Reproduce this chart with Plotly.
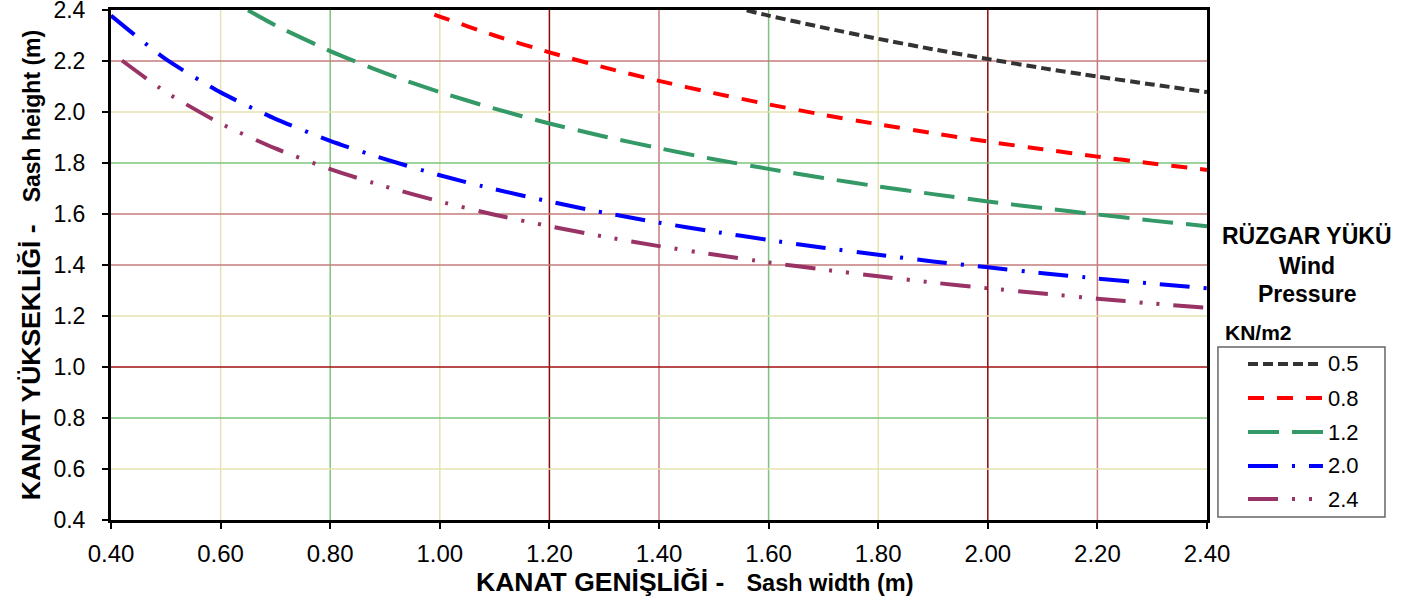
import plotly.graph_objects as go

# wind pressure classes (kN/m2)
pressures = ["0.5", "0.8", "1.2", "2.0", "2.4"]

# sash width (m) / sash height (m), one pair of lists per curve
w_05 = [1.56, 1.6, 1.7, 1.8, 1.9, 2.0, 2.1, 2.2, 2.3, 2.4]
h_05 = [2.399, 2.378, 2.331, 2.287, 2.246, 2.208, 2.172, 2.139, 2.108, 2.078]

w_08 = [0.99, 1.0, 1.1, 1.2, 1.3, 1.4, 1.5, 1.6, 1.7, 1.8, 1.9, 2.0, 2.1, 2.2, 2.3, 2.4]
h_08 = [2.382, 2.374, 2.300, 2.234, 2.175, 2.122, 2.074, 2.030, 1.989, 1.952,
        1.917, 1.884, 1.854, 1.825, 1.798, 1.773]

w_12 = [0.65, 0.7, 0.8, 0.9, 1.0, 1.1, 1.2, 1.3, 1.4, 1.5, 1.6, 1.7, 1.8, 1.9,
        2.0, 2.1, 2.2, 2.3, 2.4]
h_12 = [2.399, 2.340, 2.239, 2.152, 2.078, 2.013, 1.955, 1.904, 1.858, 1.815,
        1.777, 1.741, 1.708, 1.678, 1.649, 1.623, 1.598, 1.574, 1.552]

w_20 = [0.4, 0.5, 0.6, 0.7, 0.8, 0.9, 1.0, 1.1, 1.2, 1.3, 1.4, 1.5, 1.6, 1.7,
        1.8, 1.9, 2.0, 2.1, 2.2, 2.3, 2.4]
h_20 = [2.378, 2.207, 2.077, 1.973, 1.887, 1.815, 1.752, 1.697, 1.649, 1.605,
        1.566, 1.531, 1.498, 1.468, 1.440, 1.414, 1.391, 1.368, 1.347, 1.327, 1.309]

w_24 = [0.42, 0.5, 0.6, 0.7, 0.8, 0.9, 1.0, 1.1, 1.2, 1.3, 1.4, 1.5, 1.6, 1.7,
        1.8, 1.9, 2.0, 2.1, 2.2, 2.3, 2.4]
h_24 = [2.202, 2.078, 1.955, 1.857, 1.776, 1.708, 1.649, 1.597, 1.552, 1.511,
        1.474, 1.441, 1.410, 1.382, 1.356, 1.331, 1.309, 1.288, 1.268, 1.249, 1.232]

# tick values and the (oddly coloured) grid line groups of the original
x_ticks = [0.4, 0.6, 0.8, 1.0, 1.2, 1.4, 1.6, 1.8, 2.0, 2.2, 2.4]
y_ticks = [0.4, 0.6, 0.8, 1.0, 1.2, 1.4, 1.6, 1.8, 2.0, 2.2, 2.4]

x_grid_groups = {
    "#e6e2b2": [0.6, 1.0, 1.8],
    "#7cc47c": [0.8, 1.6],
    "#8b0a0a": [1.2, 2.0],
    "#c47c7c": [1.4, 2.2],
}
y_grid_groups = {
    "#e6e2b2": [0.6, 1.2, 2.0],
    "#c47c7c": [1.4, 1.6, 2.2],
    "#7cc47c": [0.8, 1.8],
    "#a01010": [1.0],
}

series = [
    (w_05, h_05, "#333333", "10px,5px"),
    (w_08, h_08, "#ff0000", "16px,13px"),
    (w_12, h_12, "#339966", "31px,13px"),
    (w_20, h_20, "#0000ff", "30px,14px,3px,14px"),
    (w_24, h_24, "#993366", "30px,14px,3px,14px,3px,14px"),
]

FONT = "Liberation Sans, Arial, sans-serif"
x_range = [0.4, 2.4]
y_range = [0.4, 2.4]

fig = go.Figure()

for name, (w, h, col, dash) in zip(pressures, series):
    fig.add_trace(go.Scatter(
        x=w, y=h,
        mode="lines",
        name=name,
        line=dict(color=col, dash=dash, width=4, shape="spline", smoothing=0.6),
        showlegend=False,
    ))

# coloured grid lines
for col, vals in x_grid_groups.items():
    for v in vals:
        fig.add_shape(type="line", xref="x", yref="paper", x0=v, x1=v, y0=0, y1=1,
                      line=dict(color=col, width=1.5), layer="below")
for col, vals in y_grid_groups.items():
    for v in vals:
        fig.add_shape(type="line", xref="paper", yref="y", x0=0, x1=1, y0=v, y1=v,
                      line=dict(color=col, width=1.5), layer="below")

fig.update_layout(
    width=1423, height=607,
    paper_bgcolor="white",
    plot_bgcolor="white",
    font=dict(family=FONT, color="black", size=22),
    margin=dict(l=111, r=216, t=10, b=87),
    xaxis=dict(
        range=x_range, tickvals=x_ticks, tickformat=".2f",
        showgrid=False, zeroline=False, automargin=False,
        showline=True, linecolor="black", linewidth=3, mirror=True,
        ticks="outside", ticklen=6, tickwidth=1.5, tickcolor="black",
        ticklabelstandoff=4, ticklabeloverflow="allow",
        tickfont=dict(size=24),
    ),
    yaxis=dict(
        range=y_range, tickvals=y_ticks, tickformat=".1f",
        showgrid=False, zeroline=False, automargin=False,
        showline=True, linecolor="black", linewidth=3, mirror=True,
        ticks="outside", ticklen=6, tickwidth=1.5, tickcolor="black",
        ticklabelstandoff=12, ticklabeloverflow="allow",
        tickfont=dict(size=23),
        title=dict(
            text="<b>KANAT YÜKSEKLİĞİ - &nbsp;&nbsp;<span style='font-size:23px'>Sash height (m)</span></b>",
            font=dict(size=26.5), standoff=6),
    ),
    showlegend=False,
)

fig.add_annotation(
    text="<b>KANAT GENİŞLİĞİ - &nbsp;&nbsp;<span style='font-size:23.5px'>Sash width (m)</span></b>",
    xref="paper", yref="paper", x=0.533, y=-0.1216, xanchor="center", yanchor="middle",
    showarrow=False, font=dict(size=26.5))

# legend heading
for txt, yy in [("RÜZGAR YÜKÜ", 0.557), ("Wind", 0.498), ("Pressure", 0.443)]:
    fig.add_annotation(text="<b>%s</b>" % txt, xref="paper", yref="paper",
                       x=1.0912, y=yy, xanchor="center", yanchor="middle",
                       showarrow=False, font=dict(size=23))
fig.add_annotation(text="<b>KN/m2</b>", xref="paper", yref="paper",
                   x=1.0146, y=0.367, xanchor="left", yanchor="middle",
                   showarrow=False, font=dict(size=21))

# legend box drawn by hand so the line samples are as long as the original
fig.add_shape(type="rect", xref="paper", yref="paper",
              x0=1.0100, x1=1.1624, y0=0.006, y1=0.339,
              line=dict(color="#666666", width=1.5), fillcolor="white")
item_y = [0.306, 0.239, 0.1725, 0.106, 0.041]
for name, (w, h, col, dash), yy in zip(pressures, series, item_y):
    fig.add_shape(type="line", xref="paper", yref="paper",
                  x0=1.0374, x1=1.1058, y0=yy, y1=yy,
                  line=dict(color=col, dash=dash, width=4))
    fig.add_annotation(text=name, xref="paper", yref="paper",
                       x=1.1085, y=yy, xanchor="left", yanchor="middle",
                       showarrow=False, font=dict(size=22))

# drop the default 8px page margin so the figure fills the window
fig.write_html("out.html", config={"displayModeBar": False},
               post_script="document.body.style.margin = '0';")
